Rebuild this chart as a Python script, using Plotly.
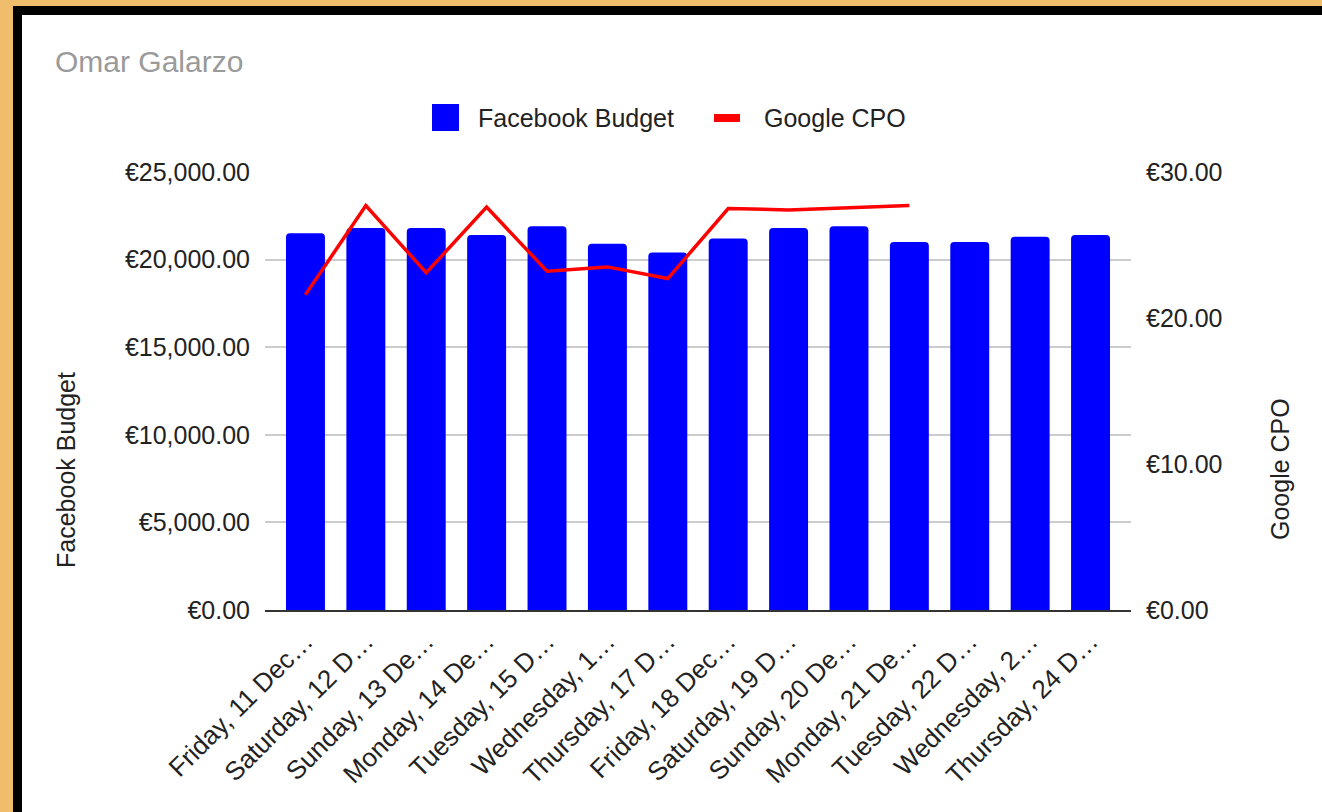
import plotly.graph_objects as go

# ---- data ----
dates = [
    "Friday, 11 Dec…", "Saturday, 12 D…", "Sunday, 13 De…", "Monday, 14 De…",
    "Tuesday, 15 D…", "Wednesday, 1…", "Thursday, 17 D…", "Friday, 18 Dec…",
    "Saturday, 19 D…", "Sunday, 20 De…", "Monday, 21 De…", "Tuesday, 22 D…",
    "Wednesday, 2…", "Thursday, 24 D…",
]
facebook_budget = [21500, 21800, 21800, 21400, 21900, 20900, 20400,
                   21200, 21800, 21900, 21000, 21000, 21300, 21400]
google_cpo = [21.6, 27.7, 23.1, 27.6, 23.2, 23.5, 22.7,
              27.5, 27.4, 27.55, 27.7, None, None, None]
left_ticks = [0, 5000, 10000, 15000, 20000, 25000]
right_ticks = [0, 10, 20, 30]
left_ticktext = ["€{:,.2f}".format(v) for v in left_ticks]
right_ticktext = ["€{:,.2f}".format(v) for v in right_ticks]

# ---- layout geometry (pixels) ----
FW, FH = 1322, 812
L, R, T, B = 265, 1131, 172, 610
PW, PH = R - L, B - T

def px(x):
    return (x - L) / PW

def py(y):
    return (B - y) / PH

FONT = "Arial, Liberation Sans, sans-serif"
TXT = "#222222"

fig = go.Figure()
fig.add_trace(go.Bar(
    x=dates, y=facebook_budget, name="Facebook Budget",
    marker=dict(color="#0000ff", cornerradius=4, line=dict(width=0)),
    yaxis="y", showlegend=False,
))
fig.add_trace(go.Scatter(
    x=dates, y=google_cpo, name="Google CPO", mode="lines",
    line=dict(color="#ff0000", width=3.5), connectgaps=False,
    yaxis="y2", showlegend=False,
))

shapes = [
    # black frame and white card
    dict(type="rect", xref="paper", yref="paper", layer="below",
         x0=px(13), x1=px(FW + 50), y0=py(6), y1=py(FH + 50),
         fillcolor="#000000", line=dict(width=0)),
    dict(type="rect", xref="paper", yref="paper", layer="below",
         x0=px(22), x1=px(FW + 50), y0=py(15), y1=py(FH + 50),
         fillcolor="#ffffff", line=dict(width=0)),
    # legend swatches
    dict(type="rect", xref="paper", yref="paper",
         x0=px(432), x1=px(459), y0=py(104), y1=py(131),
         fillcolor="#0000ff", line=dict(width=0)),
    dict(type="line", xref="paper", yref="paper",
         x0=px(714), x1=px(740), y0=py(118), y1=py(118),
         line=dict(color="#ff0000", width=8)),
]

annotations = [
    dict(text="Omar Galarzo", xref="paper", yref="paper", x=px(53), y=py(62),
         xanchor="left", yanchor="middle", showarrow=False,
         font=dict(family=FONT, size=30, color="#9a9a9a")),
    dict(text="Facebook Budget", xref="paper", yref="paper", x=px(476), y=py(118),
         xanchor="left", yanchor="middle", showarrow=False,
         font=dict(family=FONT, size=25, color=TXT)),
    dict(text="Google CPO", xref="paper", yref="paper", x=px(762), y=py(118),
         xanchor="left", yanchor="middle", showarrow=False,
         font=dict(family=FONT, size=25, color=TXT)),
    dict(text="Facebook Budget", xref="paper", yref="paper", x=px(66), y=py(470),
         xanchor="center", yanchor="middle", textangle=-90, showarrow=False,
         font=dict(family=FONT, size=25, color=TXT)),
    dict(text="Google CPO", xref="paper", yref="paper", x=px(1280), y=py(469),
         xanchor="center", yanchor="middle", textangle=-90, showarrow=False,
         font=dict(family=FONT, size=25, color=TXT)),
]

fig.update_layout(
    width=FW, height=FH,
    margin=dict(l=L, r=FW - R, t=T, b=FH - B, pad=0),
    paper_bgcolor="#f0bd6d",
    plot_bgcolor="rgba(0,0,0,0)",
    font=dict(family=FONT, size=25, color=TXT),
    bargap=0.355,
    showlegend=False,
    shapes=shapes,
    annotations=annotations,
    xaxis=dict(
        type="category", range=[-0.67, 13.67], tickangle=-45,
        showgrid=False, showline=True, linecolor="#333333", linewidth=1.5,
        ticks="", ticklabelstandoff=4,
        tickfont=dict(family=FONT, size=26, color=TXT),
        fixedrange=True,
    ),
    yaxis=dict(
        range=[0, 25000], tickmode="array", tickvals=left_ticks,
        ticktext=left_ticktext,
        showgrid=True, gridcolor="#cccccc", gridwidth=1.5, zeroline=False,
        showline=False, ticks="", ticklabelstandoff=14,
        tickfont=dict(family=FONT, size=25, color=TXT),
    ),
    yaxis2=dict(
        range=[0, 30], tickmode="array", tickvals=right_ticks,
        ticktext=right_ticktext,
        overlaying="y", side="right", showgrid=False, zeroline=False,
        showline=False, ticks="", ticklabelstandoff=14,
        tickfont=dict(family=FONT, size=25, color=TXT),
    ),
)

fig.write_html("out.html")
